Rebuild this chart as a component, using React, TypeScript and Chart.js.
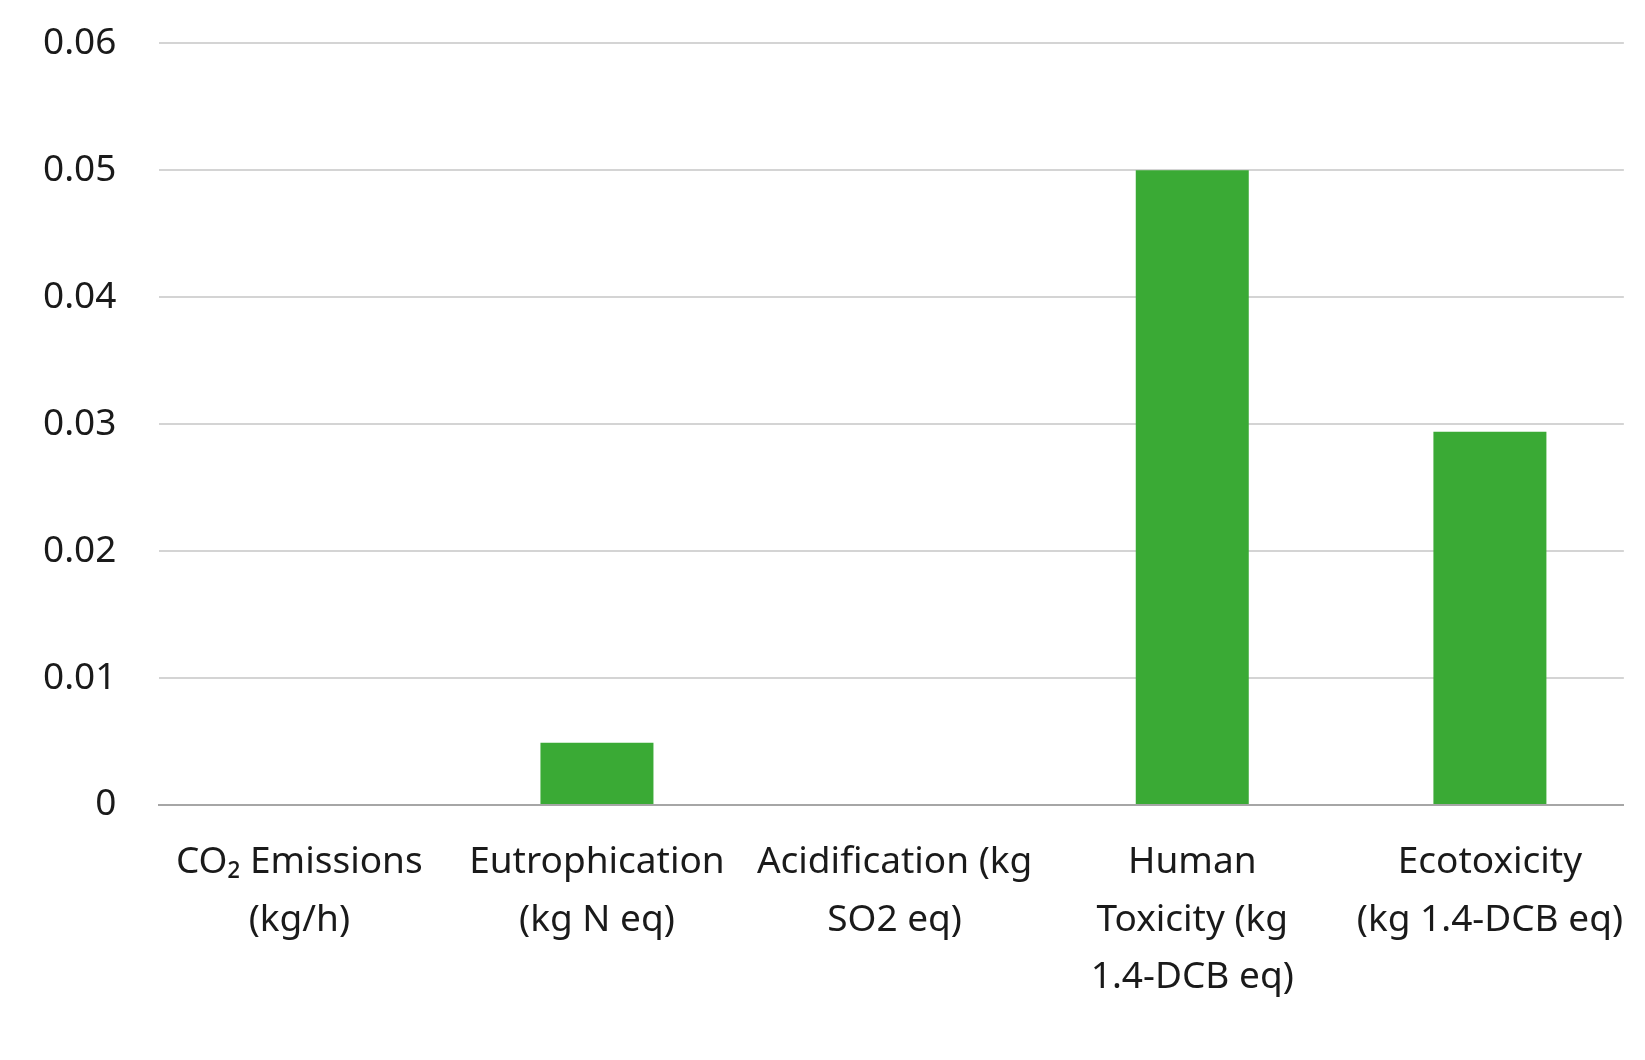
import { useEffect, useRef } from "react"
import { Chart, ChartOptions, registerables } from "chart.js"

Chart.register(...registerables)

// Data
const categories: string[][] = [
  ["CO₂ Emissions", "(kg/h)"],
  ["Eutrophication", "(kg N eq)"],
  ["Acidification (kg", "SO2 eq)"],
  ["Human", "Toxicity (kg", "1.4-DCB eq)"],
  ["Ecotoxicity", "(kg 1.4-DCB eq)"],
]
const impactValues = [0, 0.0049, 0, 0.05, 0.0294]
const yTicks = [0, 0.01, 0.02, 0.03, 0.04, 0.05, 0.06]

const FONT = "'Noto Sans', 'Open Sans', sans-serif"

export default function App() {
  const chartRef = useRef<HTMLCanvasElement>(null)
  const chartInstance = useRef<Chart | null>(null)

  useEffect(() => {
    if (!chartRef.current) return
    if (chartInstance.current) chartInstance.current.destroy()
    const ctx = chartRef.current.getContext("2d")
    if (!ctx) return

    const options: ChartOptions<"bar"> = {
      responsive: true,
      maintainAspectRatio: false,
      animation: false,
      layout: { padding: { top: 0, right: 0, bottom: 24, left: 0 } },
      plugins: {
        legend: { display: false },
        tooltip: { enabled: false },
      },
      scales: {
        x: {
          type: "linear",
          min: -0.47,
          max: 4.45,
          offset: false,
          z: 1,
          afterBuildTicks: (axis) => {
            axis.ticks = categories.map((_, i) => ({ value: i }))
          },
          grid: { display: false, drawTicks: false },
          border: { display: true, color: "#a6a6a6", width: 2 },
          ticks: {
            color: "#1a1a1a",
            font: { family: FONT, size: 37, lineHeight: 1.55 },
            padding: 29,
            maxRotation: 0,
            autoSkip: false,
            callback: (value: any) => categories[Math.round(Number(value))] ?? "",
          },
        },
        y: {
          min: 0,
          max: 0.06,
          afterBuildTicks: (axis) => {
            axis.ticks = yTicks.map((v) => ({ value: v }))
          },
          grid: {
            drawTicks: false,
            lineWidth: 2,
            color: (c: any) => (c.tick && c.tick.value === 0 ? "#a6a6a6" : "#d4d4d4"),
          },
          border: { display: false },
          ticks: {
            color: "#1a1a1a",
            font: { family: FONT, size: 37 },
            padding: 43,
            callback: (value: any) => (Number(value) === 0 ? "0" : Number(value).toFixed(2)),
          },
        },
      },
    }

    chartInstance.current = new Chart(ctx, {
      type: "bar",
      data: {
        datasets: [
          {
            data: impactValues.map((v, i) => ({ x: i, y: v })),
            backgroundColor: "#3aaa35",
            barThickness: 113,
            inflateAmount: 0,
          },
        ],
      },
      options,
    })

    return () => {
      if (chartInstance.current) chartInstance.current.destroy()
    }
  }, [])

  return (
    <div style={{ position: "fixed", left: 0, top: -22, width: 1652, height: 1081, background: "#fff" }}>
      <canvas ref={chartRef} />
    </div>
  )
}
